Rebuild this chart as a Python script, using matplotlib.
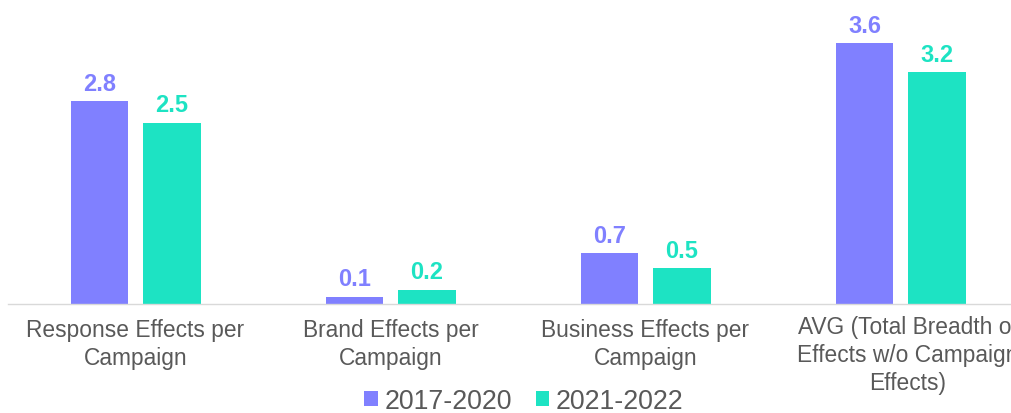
import matplotlib.pyplot as plt
import numpy as np

categories = ['Response Effects per\nCampaign', 'Brand Effects per\nCampaign',
              'Business Effects per\nCampaign',
              'AVG (Total Breadth of\nEffects w/o Campaign\nEffects)']
series_names = ['2017-2020', '2021-2022']
vals_2017 = [2.8, 0.1, 0.7, 3.6]
vals_2021 = [2.5, 0.2, 0.5, 3.2]

purple = '#8080FF'
teal = '#1DE3C3'
gray = '#595959'

plt.rcParams['font.family'] = ['Liberation Sans', 'DejaVu Sans']

fig = plt.figure(figsize=(10.12, 4.14), dpi=100)
# axes runs past the right edge, as in the original (clipped last label)
ax = fig.add_axes([8 / 1012, 109 / 414, 1020 / 1012, 305 / 414])

x = np.arange(len(categories))
w = 0.224
b1 = ax.bar(x - 0.141, vals_2017, w, color=purple, label=series_names[0])
b2 = ax.bar(x + 0.143, vals_2021, w, color=teal, label=series_names[1])

for bars, col in ((b1, purple), (b2, teal)):
    for r in bars:
        ax.annotate(f'{r.get_height():.1f}', (r.get_x() + r.get_width() / 2, r.get_height()),
                    xytext=(0, 4.5), textcoords='offset points', ha='center', va='bottom',
                    fontsize=17, fontweight='bold', color=col)

ax.set_xlim(-0.5, 3.5)
ax.set_ylim(0, 305 / 72.5)
ax.set_xticks(x)
# last label sits a little right of its group and runs off the edge
ax.set_xticklabels(categories[:-1] + [''], fontsize=16.4, color=gray, linespacing=1.3)
ax.annotate(categories[-1], (x[-1], 0), xytext=(5, -7.7), textcoords='offset points',
            ha='center', va='top', fontsize=16.4, color=gray, linespacing=1.3, annotation_clip=False)
ax.tick_params(axis='x', length=0, pad=10)
ax.set_yticks([])
for s in ['top', 'right', 'left']:
    ax.spines[s].set_visible(False)
ax.spines['bottom'].set_color('#D9D9D9')
ax.spines['bottom'].set_linewidth(1)

fig.legend(handles=[b1, b2], labels=series_names, loc='center', bbox_to_anchor=(524 / 1012, 1 - 402 / 414),
           ncol=2, frameon=False, fontsize=19.3, labelcolor=gray, handlelength=0.5, handleheight=0.5,
           handletextpad=0.25, columnspacing=0.9)

plt.savefig('out.png', dpi=100)
